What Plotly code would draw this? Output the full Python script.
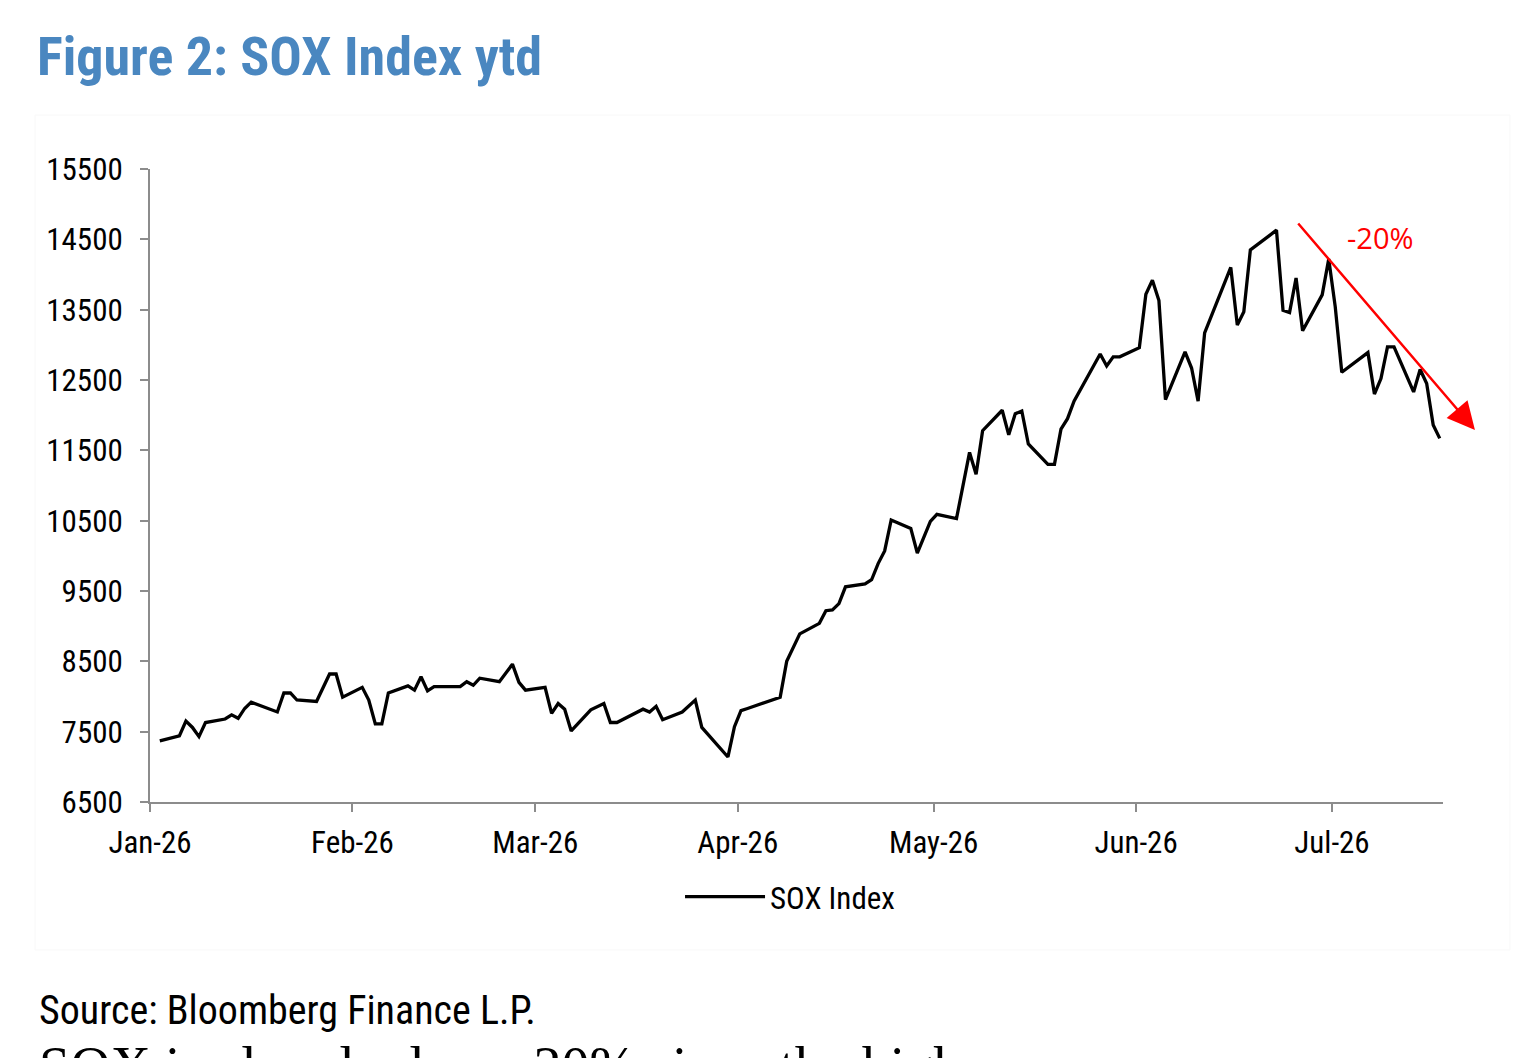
import pandas as pd
import plotly.graph_objects as go

# ---- data ----
dates = [
    "2026-01-02", "2026-01-05", "2026-01-06", "2026-01-07", "2026-01-08", "2026-01-09",
    "2026-01-12", "2026-01-13", "2026-01-14", "2026-01-15", "2026-01-16", "2026-01-20",
    "2026-01-21", "2026-01-22", "2026-01-23", "2026-01-26", "2026-01-28", "2026-01-29",
    "2026-01-30", "2026-02-02", "2026-02-03", "2026-02-04", "2026-02-05", "2026-02-06",
    "2026-02-09", "2026-02-10", "2026-02-11", "2026-02-12", "2026-02-13", "2026-02-17",
    "2026-02-18", "2026-02-19", "2026-02-20", "2026-02-23", "2026-02-25", "2026-02-26",
    "2026-02-27", "2026-03-02", "2026-03-03", "2026-03-04", "2026-03-05", "2026-03-06",
    "2026-03-09", "2026-03-11", "2026-03-12", "2026-03-13", "2026-03-17", "2026-03-18",
    "2026-03-19", "2026-03-20", "2026-03-23", "2026-03-25", "2026-03-26", "2026-03-30",
    "2026-03-31", "2026-04-01", "2026-04-02", "2026-04-06", "2026-04-07", "2026-04-08",
    "2026-04-10", "2026-04-13", "2026-04-14", "2026-04-15", "2026-04-16", "2026-04-17",
    "2026-04-20", "2026-04-21", "2026-04-22", "2026-04-23", "2026-04-24", "2026-04-27",
    "2026-04-28", "2026-04-30", "2026-05-01", "2026-05-04", "2026-05-05", "2026-05-06",
    "2026-05-07", "2026-05-08", "2026-05-11", "2026-05-12", "2026-05-13", "2026-05-14",
    "2026-05-15", "2026-05-18", "2026-05-19", "2026-05-20", "2026-05-21", "2026-05-22",
    "2026-05-26", "2026-05-27", "2026-05-28", "2026-05-29", "2026-06-01", "2026-06-02",
    "2026-06-03", "2026-06-04", "2026-06-05", "2026-06-08", "2026-06-09", "2026-06-10",
    "2026-06-11", "2026-06-15", "2026-06-16", "2026-06-17", "2026-06-18", "2026-06-22",
    "2026-06-23", "2026-06-24", "2026-06-25", "2026-06-26", "2026-06-29", "2026-06-30",
    "2026-07-01", "2026-07-02", "2026-07-06", "2026-07-07", "2026-07-08", "2026-07-09",
    "2026-07-10", "2026-07-13", "2026-07-14", "2026-07-15", "2026-07-16", "2026-07-17",
]
sox_values = [
    7370, 7440, 7650, 7560, 7430, 7630,
    7680, 7740, 7690, 7830, 7920, 7780,
    8050, 8050, 7950, 7930, 8320, 8320,
    7990, 8130, 7950, 7610, 7610, 8050,
    8150, 8090, 8280, 8080, 8140, 8140,
    8210, 8160, 8260, 8210, 8460, 8200,
    8090, 8130, 7760, 7900, 7820, 7510,
    7810, 7900, 7630, 7630, 7820, 7780,
    7860, 7670, 7780, 7950, 7560, 7140,
    7570, 7800, 7830, 7950, 7990, 8500,
    8890, 9040, 9220, 9230, 9320, 9560,
    9600, 9660, 9890, 10070, 10510, 10390,
    10040, 10490, 10590, 10530, 10980, 11470,
    11160, 11780, 12070, 11720, 12020, 12060,
    11590, 11300, 11300, 11800, 11950, 12200,
    12870, 12700, 12830, 12830, 12960, 13720,
    13920, 13630, 12220, 12900, 12670, 12200,
    13170, 14100, 13280, 13470, 14350, 14630,
    13490, 13460, 13950, 13200, 13710, 14220,
    13540, 12610, 12890, 12300, 12520, 12970,
    12970, 12330, 12650, 12450, 11860, 11670,
]
month_ticks = ["2026-01-01", "2026-02-01", "2026-03-01", "2026-04-01",
               "2026-05-01", "2026-06-01", "2026-07-01"]
month_labels = ["Jan-26", "Feb-26", "Mar-26", "Apr-26", "May-26", "Jun-26", "Jul-26"]
y_ticks = [6500, 7500, 8500, 9500, 10500, 11500, 12500, 13500, 14500, 15500]
y_labels = [str(v) for v in y_ticks]
series_name = "SOX Index"
title_text = "Figure 2: SOX Index ytd"
source_text = "Source: Bloomberg Finance L.P."
drop_label = "-20%"
body_text = "SOX is already down 20% since the high"

NARROW = "Liberation Sans Narrow, Arial Narrow, Roboto Condensed, Liberation Sans, Arial, sans-serif"

# points sit mid-day on the date axis (as in the original spreadsheet chart)
x_vals = pd.to_datetime(dates) + pd.Timedelta(hours=12)

fig = go.Figure()
fig.add_trace(go.Scatter(
    x=x_vals, y=sox_values, mode="lines", name=series_name,
    line=dict(color="black", width=3.3),
))

axis_grey = "#8c8c8c"
fig.update_layout(
    width=1536, height=1058,
    margin=dict(l=150, r=93, t=169, b=256),
    paper_bgcolor="white", plot_bgcolor="white",
    font=dict(family=NARROW, size=31, color="black"),
    title=dict(
        text=f"<b>{title_text}</b>", x=37 / 1536, xanchor="left",
        y=1 - 56 / 1058, yanchor="middle", yref="container",
        font=dict(family=NARROW, size=54, color="#4A87C0"),
    ),
    showlegend=True,
    legend=dict(
        orientation="h", x=0.495, xanchor="center", y=-0.15, yanchor="middle",
        font=dict(family=NARROW, size=31, color="black"), itemwidth=80,
        bgcolor="rgba(0,0,0,0)",
    ),
    xaxis=dict(
        type="date", range=["2026-01-01", "2026-07-18"],
        tickmode="array", tickvals=month_ticks, ticktext=month_labels,
        showgrid=False, zeroline=False, showline=True, linecolor=axis_grey, linewidth=2,
        ticks="outside", ticklen=8, tickwidth=2, tickcolor=axis_grey,
        tickfont=dict(family=NARROW, size=31, color="black"),
        ticklabelstandoff=4,
    ),
    yaxis=dict(
        range=[6500, 15500], tickmode="array", tickvals=y_ticks, ticktext=y_labels,
        showgrid=False, zeroline=False, showline=True, linecolor=axis_grey, linewidth=2,
        ticks="outside", ticklen=8, tickwidth=2, tickcolor=axis_grey,
        tickfont=dict(family=NARROW, size=31, color="black"),
        ticklabelstandoff=11,
    ),
)

# faint outer chart frame
fig.add_shape(type="rect", xref="paper", yref="paper",
              x0=-0.0889, x1=1.0518, y0=-0.2338, y1=1.0853,
              line=dict(color="#f8f8f8", width=1), layer="below")

# red trend arrow and label
fig.add_annotation(
    xref="paper", yref="paper", x=1.0247, y=0.5877,
    ax=-178, ay=-208, axref="pixel", ayref="pixel",
    showarrow=True, arrowhead=2, arrowsize=2.2, arrowwidth=2.5, arrowcolor="#FF0000",
    text="",
)
fig.add_annotation(
    xref="paper", yref="paper", x=0.9513, y=0.891, showarrow=False,
    text=drop_label, font=dict(family="Open Sans, Lato, sans-serif", size=29, color="#FF0000"),
    xanchor="center", yanchor="middle",
)

# source line
fig.add_annotation(
    xref="paper", yref="paper", x=-0.0874, y=-0.3286, showarrow=False,
    text=source_text, font=dict(family=NARROW, size=40, color="black"),
    xanchor="left", yanchor="middle",
)
# following body text (cut off at the bottom of the page, as in the reference)
fig.add_annotation(
    xref="paper", yref="paper", x=-0.0874, y=-0.3665, showarrow=False,
    text=body_text, font=dict(family="Liberation Serif, Times New Roman, serif", size=56, color="black"),
    xanchor="left", yanchor="top",
)

fig.write_html("out.html")
